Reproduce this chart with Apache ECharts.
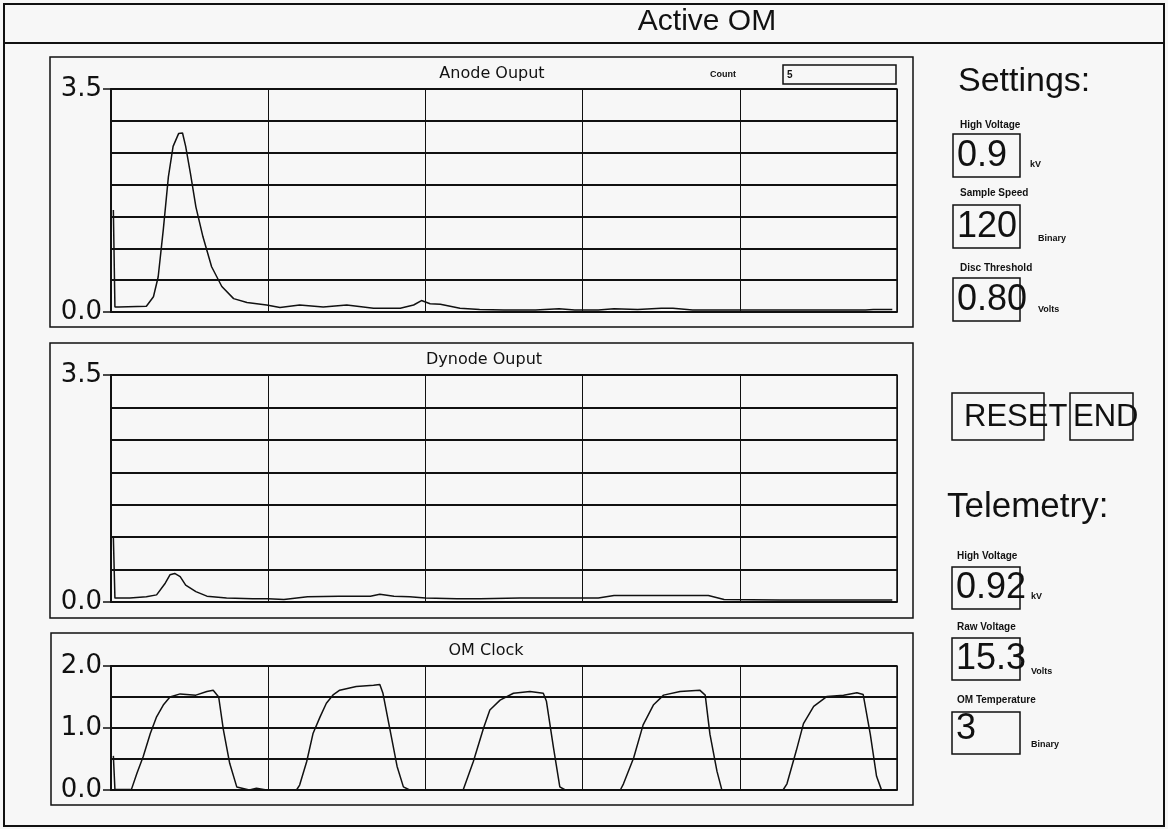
<!DOCTYPE html>
<html>
<head>
<meta charset="utf-8">
<script src="https://cdn.jsdelivr.net/npm/echarts@6/dist/echarts.min.js"></script>
<style>
html,body{margin:0;padding:0;background:#f7f7f7;}
#chart{width:1168px;height:829px;}
</style>
</head>
<body>
<div id="chart"></div>
<script>
// ---- Data ----
const panelTitles = ['Anode Ouput', 'Dynode Ouput', 'OM Clock'];
const yMax = [3.5, 3.5, 2.0];
const yLabelValues = [[0, 3.5], [0, 3.5], [0, 1, 2]];

const anodeX = [0.3,0.5,1,4.5,5.4,6.0,6.65,7.3,7.9,8.6,9.1,9.5,10.1,10.8,11.7,12.8,14.1,15.6,17.3,19.8,21.5,24,27,30,33.4,36.8,38.5,39.5,40.6,41.9,44.4,46.9,50,54,57,59,62,64,67,70,71.5,74,80,84,90,96,97,99.4];
const anodeY = [1.6,0.08,0.08,0.09,0.24,0.55,1.29,2.12,2.6,2.8,2.81,2.6,2.18,1.65,1.18,0.71,0.40,0.21,0.15,0.11,0.07,0.11,0.08,0.11,0.06,0.06,0.11,0.18,0.13,0.12,0.06,0.04,0.03,0.03,0.05,0.03,0.03,0.05,0.04,0.06,0.06,0.03,0.03,0.03,0.03,0.03,0.04,0.04];

const dynodeX = [0.3,0.5,2.4,4.5,5.8,6.9,7.5,8.1,8.8,9.5,10.8,12.2,14.7,18,20,22,25,29,33,34.2,36,38,40,44,47,52,58,62,64,70,76,78,85,92,99.4];
const dynodeY = [1.0,0.06,0.06,0.08,0.11,0.29,0.42,0.44,0.39,0.26,0.16,0.09,0.06,0.05,0.05,0.04,0.08,0.09,0.09,0.12,0.09,0.08,0.06,0.05,0.05,0.06,0.06,0.06,0.1,0.1,0.1,0.04,0.03,0.03,0.03];

const clockX = [0.3,0.5,2.6,3.3,4.1,5.0,5.8,6.65,7.5,8.8,10.8,12.2,13.0,13.7,14.3,15.1,16.0,17.6,18.5,19.8,23.6,24.0,24.9,25.7,26.6,27.4,28.3,29.1,31.2,33.4,34.2,34.6,35.5,36.4,37.2,38,44.8,46.1,47.4,48.2,49.5,51.2,53.3,55.0,55.4,56.3,57.1,57.8,64.8,65.2,66.5,67.7,69.0,70.3,72.4,74.9,75.6,76.2,77.1,77.7,78.3,85.5,86.0,87.2,88.1,89.4,91.1,93.2,94.9,95.7,96.6,97.4,98.0,99.5];
const clockY = [0.55,0.01,0.01,0.27,0.54,0.91,1.18,1.37,1.5,1.55,1.53,1.59,1.61,1.5,0.97,0.43,0.05,0.0,0.03,0.0,0.0,0.08,0.46,0.91,1.18,1.4,1.54,1.61,1.67,1.69,1.7,1.56,0.97,0.38,0.05,0,0,0.46,1.0,1.29,1.45,1.56,1.59,1.56,1.43,0.68,0.05,0,0,0.1,0.52,1.05,1.37,1.53,1.59,1.61,1.53,0.9,0.3,0.01,0,0,0.1,0.64,1.07,1.35,1.51,1.53,1.57,1.54,0.9,0.22,0.01,0];

const countValue = '5';
const settings = [
  {label: 'High Voltage', value: '0.9', unit: 'kV'},
  {label: 'Sample Speed', value: '120', unit: 'Binary'},
  {label: 'Disc Threshold', value: '0.80', unit: 'Volts'}
];
const telemetry = [
  {label: 'High Voltage', value: '0.92', unit: 'kV'},
  {label: 'Raw Voltage', value: '15.3', unit: 'Volts'},
  {label: 'OM Temperature', value: '3', unit: 'Binary'}
];

// ---- Layout ----
const INK = '#111';
const grids = [
  {left: 111, top: 89, width: 786, height: 223},
  {left: 111, top: 375, width: 786, height: 227},
  {left: 111, top: 666, width: 786, height: 124}
];
const panelRects = [[50,57,863,270],[50,343,863,275],[51,633,862,172]];
const panelTitlePos = [[492,74],[484,360],[486,651]];
const settingsY = [{l:125,b:134,u:165},{l:193,b:205,u:239},{l:268,b:278,u:310}];
const telemetryY = [{l:556,b:567,u:597},{l:627,b:638,u:672},{l:700,b:712,u:745}];

function zip(xs, ys){ return xs.map((x,i)=>[x, ys[i]]); }
const seriesData = [zip(anodeX, anodeY), zip(dynodeX, dynodeY), zip(clockX, clockY)];

const xAxes = grids.map((g,i)=>({
  gridIndex: i, type: 'value', min: 0, max: 100, interval: 20,
  axisLabel: {show: false}, axisTick: {show: false},
  axisLine: {show: true, lineStyle: {color: INK, width: 1.5}},
  splitLine: {show: true, lineStyle: {color: INK, width: 1}}
}));
const yAxes = [];
grids.forEach((gr,i)=>{
  // main axis: grid lines every 0.5
  yAxes.push({
    gridIndex: i, type: 'value', min: 0, max: yMax[i], interval: 0.5,
    axisLine: {show: true, lineStyle: {color: INK, width: 2}},
    axisTick: {show: false},
    axisLabel: {show: false},
    splitLine: {show: true, lineStyle: {color: INK, width: 2}}
  });
  // label axis: only the labelled values, with their tick marks
  yAxes.push({
    gridIndex: i, type: 'value', position: 'left', min: 0, max: yMax[i], interval: 0.5,
    axisLine: {show: false},
    axisTick: {show: true, length: 8, customValues: yLabelValues[i], lineStyle: {color: INK, width: 1.5}},
    axisLabel: {
      customValues: yLabelValues[i], margin: 9, fontSize: 26, fontFamily: 'DejaVu Sans', color: INK,
      formatter: v => yLabelValues[i].some(t => Math.abs(t - v) < 1e-6) ? Number(v).toFixed(1) : ''
    },
    splitLine: {show: false}
  });
});

const series = seriesData.map((d,i)=>({
  type: 'line', xAxisIndex: i, yAxisIndex: i * 2, data: d,
  showSymbol: false, symbol: 'none', smooth: false, silent: true,
  lineStyle: {color: INK, width: 1.5}
}));

const g = [];
function rect(x,y,w,h,lw){ g.push({type:'rect', shape:{x,y,width:w,height:h}, style:{fill:'none', stroke:INK, lineWidth:lw||1.5}, silent:true}); }
function text(t,x,y,font,opts){ g.push(Object.assign({type:'text', x, y, silent:true, style:Object.assign({text:t, font, fill:INK, textVerticalAlign:'middle'}, opts||{})})); }

// outer frame and title band
rect(4,4,1160,822,2);
g.push({type:'line', shape:{x1:4,y1:43,x2:1164,y2:43}, style:{stroke:INK, lineWidth:2}, silent:true});
text('Active OM', 707, 22, '30px "Liberation Sans", Arial, sans-serif', {textAlign:'center'});

// panels
panelRects.forEach(r=>rect(r[0],r[1],r[2],r[3],1.5));
panelTitles.forEach((t,i)=>text(t, panelTitlePos[i][0], panelTitlePos[i][1], '16px "DejaVu Sans", sans-serif', {textAlign:'center'}));

// count
text('Count', 710, 75, 'bold 9px "Liberation Sans", Arial, sans-serif');
rect(783,65,113,19,1.5);
text(countValue, 787, 75, 'bold 10px "Liberation Sans", Arial, sans-serif');

// settings
text('Settings:', 958, 82, '34px "Liberation Sans", Arial, sans-serif');
settings.forEach((s,i)=>{
  const p = settingsY[i];
  text(s.label, 960, p.l, 'bold 10px "Liberation Sans", Arial, sans-serif');
  rect(953, p.b, 67, 43, 1.5);
  text(s.value, 957, p.b + 22, '36px "Liberation Sans", Arial, sans-serif');
  text(s.unit, i === 0 ? 1030 : 1038, p.u, 'bold 9px "Liberation Sans", Arial, sans-serif');
});

// buttons
rect(952,393,92,47,1.5);
rect(1070,393,63,47,1.5);
text('RESET', 964, 417, '31px "Liberation Sans", Arial, sans-serif');
text('END', 1073, 417, '31px "Liberation Sans", Arial, sans-serif');

// telemetry
text('Telemetry:', 947, 507, '35px "Liberation Sans", Arial, sans-serif');
telemetry.forEach((s,i)=>{
  const p = telemetryY[i];
  text(s.label, 957, p.l, 'bold 10px "Liberation Sans", Arial, sans-serif');
  rect(952, p.b, 68, 42, 1.5);
  text(s.value, 956, p.b + (i === 2 ? 17 : 21), '36px "Liberation Sans", Arial, sans-serif');
  text(s.unit, 1031, p.u, 'bold 9px "Liberation Sans", Arial, sans-serif');
});

const chart = echarts.init(document.getElementById('chart'), null, {renderer: 'canvas'});
chart.setOption({
  backgroundColor: '#f7f7f7',
  animation: false,
  grid: grids.map(gr => Object.assign({show: true, borderColor: INK, borderWidth: 1.5, backgroundColor: 'transparent'}, gr)),
  xAxis: xAxes,
  yAxis: yAxes,
  series: series,
  graphic: g
});
</script>
</body>
</html>
